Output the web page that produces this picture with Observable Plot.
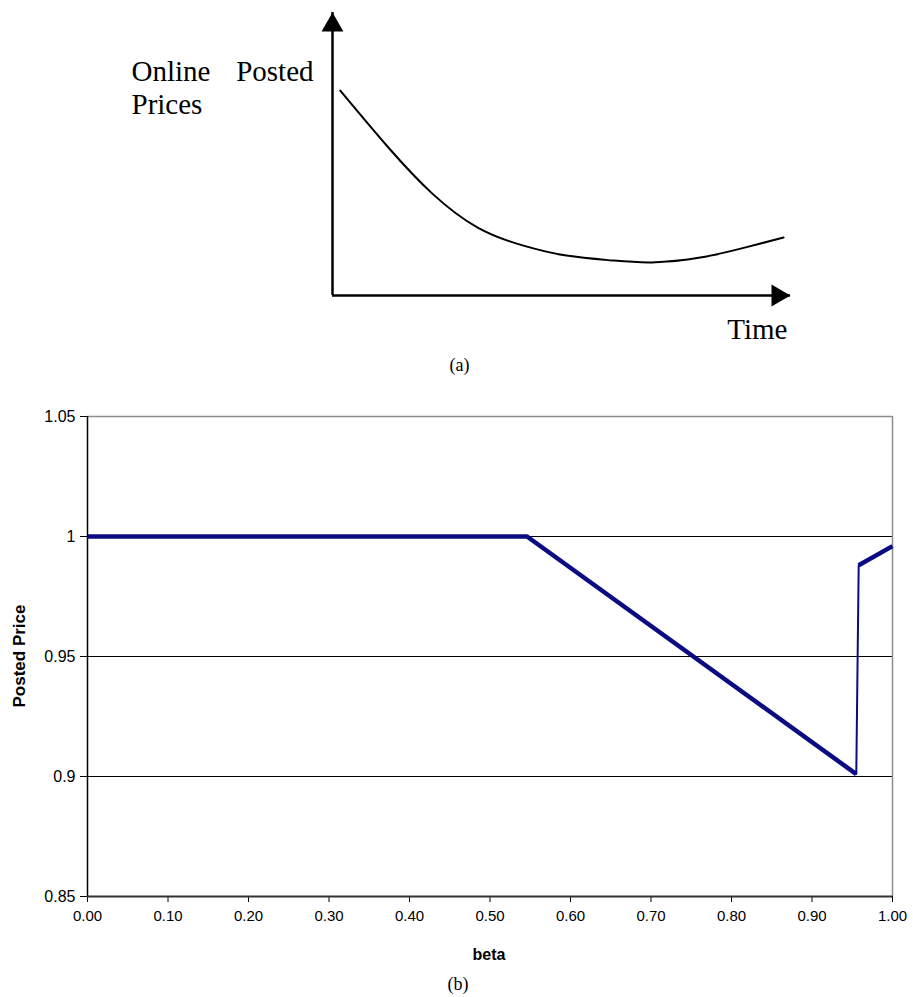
<!DOCTYPE html>
<html>
<head>
<meta charset="utf-8">
<script src="https://cdn.jsdelivr.net/npm/d3@7"></script>
<script src="https://cdn.jsdelivr.net/npm/@observablehq/plot@0.6"></script>
<style>
  html, body { margin: 0; padding: 0; background: #fff; }
  #wrap { position: relative; width: 913px; height: 997px; overflow: hidden; }
  #panelA { position: absolute; left: 0; top: 0; }
  #panelB { position: absolute; left: 0; top: 385px; }
  .lbl { position: absolute; white-space: nowrap; line-height: 1; }
</style>
</head>
<body>
<div id="wrap">
  <div id="panelA"></div>
  <div id="panelB"></div>
  <div class="lbl" id="ylab" style="font-family:'Liberation Sans',Arial,sans-serif;font-weight:bold;font-size:17px;left:19px;top:656px;transform:translate(-50%,-50%) rotate(-90deg);">Posted Price</div>
  <div class="lbl" id="xlab" style="font-family:'Liberation Sans',Arial,sans-serif;font-weight:bold;font-size:16px;left:489px;top:955px;transform:translate(-50%,-50%);">beta</div>
  <div class="lbl" id="capb" style="font-family:'Liberation Serif','Times New Roman',serif;font-size:18px;left:458px;top:984px;transform:translate(-50%,-50%);">(b)</div>
</div>
<script>
// ---------- Panel (a): schematic ----------
const sketchTime  = [1.7, 12.2, 21.8, 31.7, 41.5, 51.1, 60.9, 69.7, 80.3, 90.2, 98.5];
const sketchPrice = [72.4, 52.3, 36.0, 24.0, 17.7, 14.1, 12.4, 11.7, 13.4, 17.0, 20.5];
const sketch = sketchTime.map((t, i) => ({t, p: sketchPrice[i]}));
const axisMax = 100;

const serif = "'Liberation Serif','Times New Roman',serif";
const plotA = Plot.plot({
  width: 913, height: 380,
  marginLeft: 332, marginRight: 123, marginTop: 12, marginBottom: 85,
  x: {domain: [0, axisMax], axis: null},
  y: {domain: [0, axisMax], axis: null},
  style: {fontFamily: serif, background: "white", overflow: "visible"},
  marks: [
    Plot.ruleX([0], {stroke: "black", strokeWidth: 2.5}),
    Plot.ruleY([0], {stroke: "black", strokeWidth: 2.5}),
    Plot.dot([{t: 0, p: axisMax}], {x: "t", y: "p", symbol: "triangle", r: 8.1, fill: "black", stroke: "none", dy: 12.7}),
    Plot.dot([{t: axisMax, p: 0}], {x: "t", y: "p", symbol: "triangle", r: 8.1, fill: "black", stroke: "none", rotate: 90, dx: -12.7}),
    Plot.line(sketch, {x: "t", y: "p", curve: "natural", stroke: "black", strokeWidth: 2}),
    Plot.text(["Online"], {text: d => d, frameAnchor: "top-left", textAnchor: "start", lineAnchor: "bottom", dx: -201, dy: 68, fontSize: 29, fill: "black"}),
    Plot.text(["Posted"], {text: d => d, frameAnchor: "top-left", textAnchor: "end", lineAnchor: "bottom", dx: -19, dy: 68, fontSize: 29, fill: "black"}),
    Plot.text(["Prices"], {text: d => d, frameAnchor: "top-left", textAnchor: "start", lineAnchor: "bottom", dx: -201, dy: 101, fontSize: 29, fill: "black"}),
    Plot.text(["Time"], {text: d => d, frameAnchor: "bottom-right", textAnchor: "end", lineAnchor: "bottom", dx: -3, dy: 43, fontSize: 29, fill: "black"}),
    Plot.text(["(a)"], {text: d => d, frameAnchor: "bottom-left", textAnchor: "middle", lineAnchor: "bottom", dx: 127, dy: 75, fontSize: 18, fill: "black"})
  ]
});
document.getElementById("panelA").append(plotA);

// ---------- Panel (b): Posted Price vs beta ----------
const beta        = [0.000, 0.546, 0.955, 0.958, 1.000];
const postedPrice = [1.000, 1.000, 0.901, 0.988, 0.996];
const segment     = ["main", "main", "main", "tail", "tail"];
const pts = beta.map((b, i) => ({beta: b, price: postedPrice[i], seg: segment[i]}));
const jump = pts.slice(2, 4);

const yTicks = [0.85, 0.9, 0.95, 1, 1.05];
const yTickLabels = ["0.85", "0.9", "0.95", "1", "1.05"];
const xTicks = [0, 0.1, 0.2, 0.3, 0.4, 0.5, 0.6, 0.7, 0.8, 0.9, 1.0];
const xTickLabels = ["0.00", "0.10", "0.20", "0.30", "0.40", "0.50", "0.60", "0.70", "0.80", "0.90", "1.00"];
const gridValues = [0.9, 0.95, 1];

const navy = "#0c0c82";
const plotB = Plot.plot({
  width: 913, height: 585,
  marginLeft: 87, marginRight: 21, marginTop: 31, marginBottom: 74,
  x: {domain: [0, 1]},
  y: {domain: [0.85, 1.05]},
  style: {fontFamily: "'Liberation Sans',Arial,sans-serif", fontSize: "15px", background: "white", color: "black", overflow: "visible"},
  marks: [
    Plot.ruleY(gridValues, {stroke: "black", strokeWidth: 1}),
    Plot.ruleY([1.05], {stroke: "#8c8c8c", strokeWidth: 1.5}),
    Plot.ruleX([1], {stroke: "#8c8c8c", strokeWidth: 1.5}),
    Plot.axisY({ticks: yTicks, tickFormat: (d, i) => yTickLabels[i], tickSize: 7, tickPadding: 5, label: null, stroke: "black", strokeOpacity: 1, fontSize: 16}),
    Plot.axisX({ticks: xTicks, tickFormat: (d, i) => xTickLabels[i], tickSize: 6, tickPadding: 8, label: null, stroke: "black", strokeOpacity: 1, fontSize: 15}),
    Plot.ruleX([0], {stroke: "black", strokeWidth: 1.5}),
    Plot.ruleY([0.85], {stroke: "#333", strokeWidth: 2}),
    Plot.line(jump, {x: "beta", y: "price", stroke: navy, strokeWidth: 2}),
    Plot.line(pts, {x: "beta", y: "price", z: "seg", stroke: navy, strokeWidth: 4.5, strokeLinecap: "butt"})
  ]
});
document.getElementById("panelB").append(plotB);
</script>
</body>
</html>
